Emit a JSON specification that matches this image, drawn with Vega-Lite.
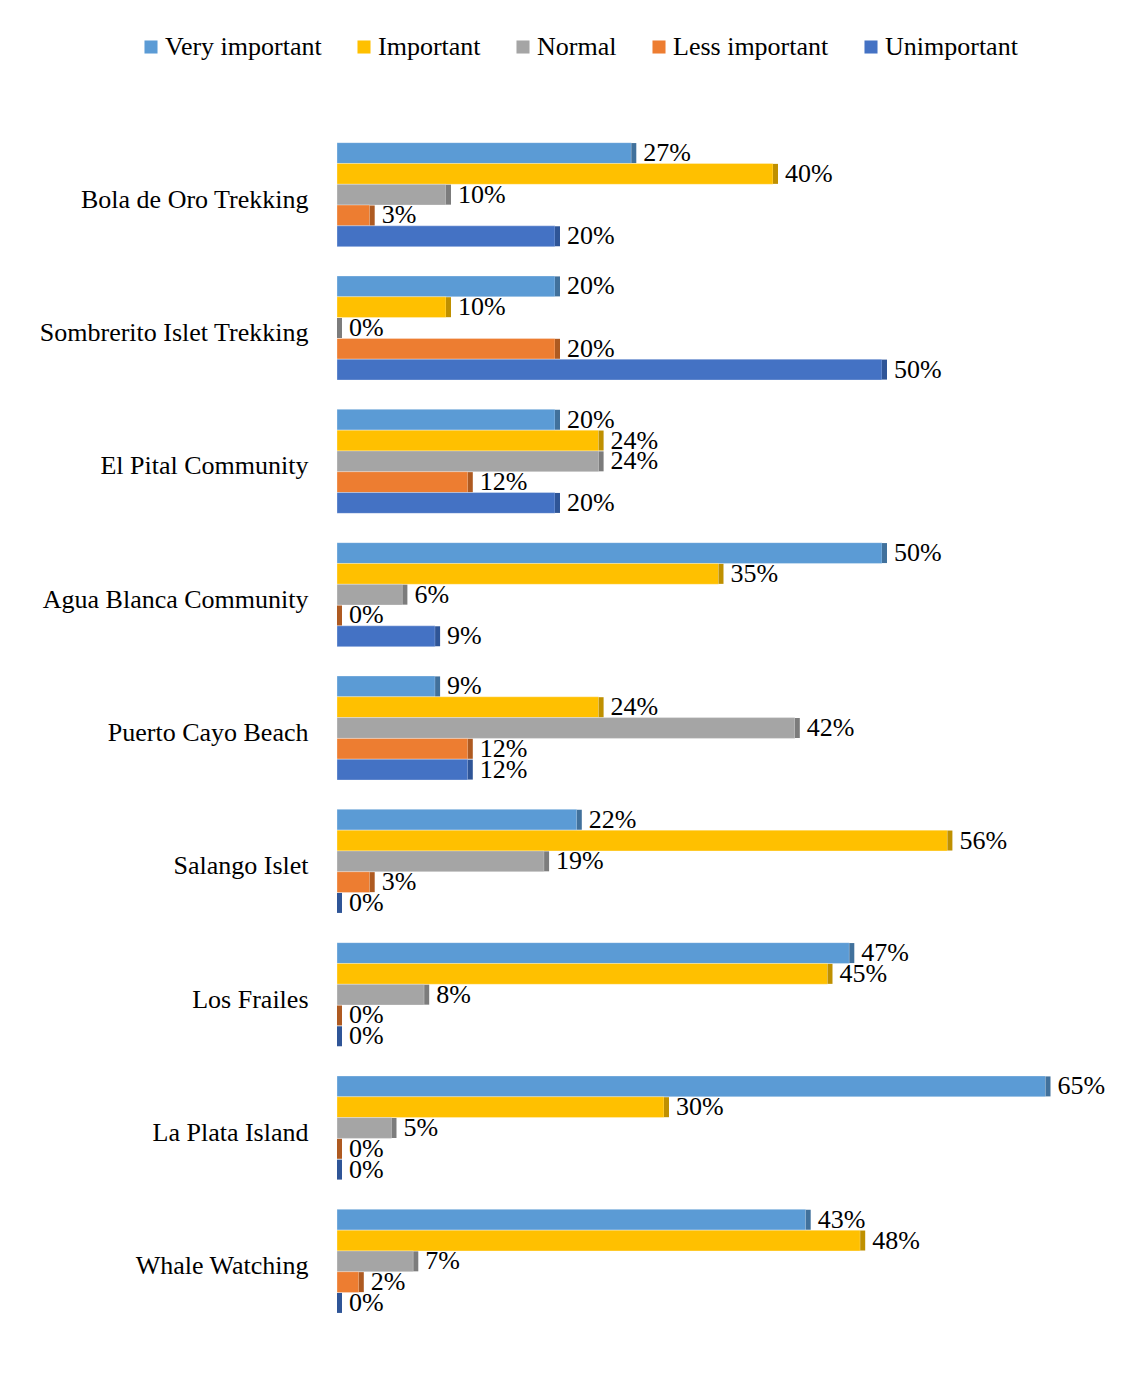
{
  "$schema": "https://vega.github.io/schema/vega-lite/v6.json",
  "width": 763,
  "height": 1200,
  "autosize": "none",
  "padding": {"left": 337, "top": 128, "right": 31, "bottom": 45},
  "background": "white",
  "config": {"view": {"stroke": null}, "font": "Liberation Serif"},
  "data": {"values": [
    {"site": "Bola de Oro Trekking", "level": "Very important", "value": 0.27},
    {"site": "Bola de Oro Trekking", "level": "Important", "value": 0.40},
    {"site": "Bola de Oro Trekking", "level": "Normal", "value": 0.10},
    {"site": "Bola de Oro Trekking", "level": "Less important", "value": 0.03},
    {"site": "Bola de Oro Trekking", "level": "Unimportant", "value": 0.20},
    {"site": "Sombrerito Islet Trekking", "level": "Very important", "value": 0.20},
    {"site": "Sombrerito Islet Trekking", "level": "Important", "value": 0.10},
    {"site": "Sombrerito Islet Trekking", "level": "Normal", "value": 0.0},
    {"site": "Sombrerito Islet Trekking", "level": "Less important", "value": 0.20},
    {"site": "Sombrerito Islet Trekking", "level": "Unimportant", "value": 0.50},
    {"site": "El Pital Community", "level": "Very important", "value": 0.20},
    {"site": "El Pital Community", "level": "Important", "value": 0.24},
    {"site": "El Pital Community", "level": "Normal", "value": 0.24},
    {"site": "El Pital Community", "level": "Less important", "value": 0.12},
    {"site": "El Pital Community", "level": "Unimportant", "value": 0.20},
    {"site": "Agua Blanca Community", "level": "Very important", "value": 0.50},
    {"site": "Agua Blanca Community", "level": "Important", "value": 0.35},
    {"site": "Agua Blanca Community", "level": "Normal", "value": 0.06},
    {"site": "Agua Blanca Community", "level": "Less important", "value": 0.0},
    {"site": "Agua Blanca Community", "level": "Unimportant", "value": 0.09},
    {"site": "Puerto Cayo Beach", "level": "Very important", "value": 0.09},
    {"site": "Puerto Cayo Beach", "level": "Important", "value": 0.24},
    {"site": "Puerto Cayo Beach", "level": "Normal", "value": 0.42},
    {"site": "Puerto Cayo Beach", "level": "Less important", "value": 0.12},
    {"site": "Puerto Cayo Beach", "level": "Unimportant", "value": 0.12},
    {"site": "Salango Islet", "level": "Very important", "value": 0.22},
    {"site": "Salango Islet", "level": "Important", "value": 0.56},
    {"site": "Salango Islet", "level": "Normal", "value": 0.19},
    {"site": "Salango Islet", "level": "Less important", "value": 0.03},
    {"site": "Salango Islet", "level": "Unimportant", "value": 0.0},
    {"site": "Los Frailes", "level": "Very important", "value": 0.47},
    {"site": "Los Frailes", "level": "Important", "value": 0.45},
    {"site": "Los Frailes", "level": "Normal", "value": 0.08},
    {"site": "Los Frailes", "level": "Less important", "value": 0.0},
    {"site": "Los Frailes", "level": "Unimportant", "value": 0.0},
    {"site": "La Plata Island", "level": "Very important", "value": 0.65},
    {"site": "La Plata Island", "level": "Important", "value": 0.30},
    {"site": "La Plata Island", "level": "Normal", "value": 0.05},
    {"site": "La Plata Island", "level": "Less important", "value": 0.0},
    {"site": "La Plata Island", "level": "Unimportant", "value": 0.0},
    {"site": "Whale Watching", "level": "Very important", "value": 0.43},
    {"site": "Whale Watching", "level": "Important", "value": 0.48},
    {"site": "Whale Watching", "level": "Normal", "value": 0.07},
    {"site": "Whale Watching", "level": "Less important", "value": 0.02},
    {"site": "Whale Watching", "level": "Unimportant", "value": 0.0}
  ]},
  "encoding": {
    "y": {
      "field": "site", "type": "nominal",
      "sort": ["Bola de Oro Trekking", "Sombrerito Islet Trekking", "El Pital Community", "Agua Blanca Community", "Puerto Cayo Beach", "Salango Islet", "Los Frailes", "La Plata Island", "Whale Watching"],
      "scale": {"paddingInner": 0.22, "paddingOuter": 0.11},
      "axis": {"title": null, "domain": false, "ticks": false, "labelFontSize": 26, "labelColor": "black", "labelPadding": 29, "labelFont": "Liberation Serif", "labelOffset": 5, "labelLimit": 400}
    },
    "yOffset": {
      "field": "level", "type": "nominal",
      "sort": ["Very important", "Important", "Normal", "Less important", "Unimportant"],
      "scale": {"paddingInner": 0, "paddingOuter": 0}
    },
    "x": {"field": "value", "type": "quantitative", "scale": {"domain": [0, 0.7]}, "axis": null}
  },
  "layer": [
    {
      "mark": {"type": "bar", "stroke": "#ffffff", "strokeWidth": 0.3},
      "encoding": {
        "color": {
          "field": "level", "type": "nominal",
          "scale": {"domain": ["Very important", "Important", "Normal", "Less important", "Unimportant"], "range": ["#5B9BD5", "#FFC000", "#A5A5A5", "#ED7D31", "#4472C4"]},
          "legend": {"title": null, "orient": "none", "legendX": -199, "legendY": -94, "direction": "horizontal", "symbolType": "square", "symbolSize": 170, "symbolStrokeWidth": 0, "labelFontSize": 26, "labelFont": "Liberation Serif", "labelColor": "black", "columnPadding": 29, "labelOffset": 1}
        }
      }
    },
    {
      "mark": {"type": "tick", "orient": "vertical", "thickness": 5, "size": 20, "xOffset": 2.5, "opacity": 1},
      "encoding": {
        "color": {
          "field": "level", "type": "nominal",
          "scale": {"domain": ["Very important", "Important", "Normal", "Less important", "Unimportant"], "range": ["#41719C", "#BF9000", "#7C7C7C", "#AE5A21", "#2F5597"]},
          "legend": null
        }
      }
    },
    {
      "mark": {"type": "text", "align": "left", "baseline": "middle", "dx": 12, "fontSize": 26, "font": "Liberation Serif", "color": "black"},
      "encoding": {"text": {"field": "value", "type": "quantitative", "format": ".0%"}}
    }
  ],
  "resolve": {"scale": {"color": "independent"}}
}
